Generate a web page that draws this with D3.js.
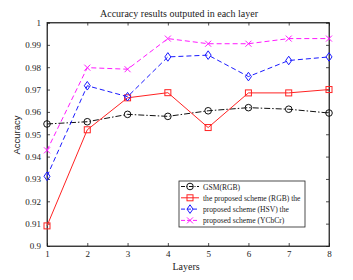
<!DOCTYPE html>
<html>
<head>
<meta charset="utf-8">
<script src="https://cdn.jsdelivr.net/npm/d3@7"></script>
<style>
  body { margin: 0; background: #fff; }
  text { font-family: "Liberation Serif", "Times New Roman", serif; fill: #222; }
</style>
</head>
<body>
<div id="chart"></div>
<script>
const layers = [1, 2, 3, 4, 5, 6, 7, 8];
const gsmRGB = [0.9546, 0.9556, 0.9589, 0.9580, 0.9605, 0.9619, 0.9612, 0.9595];
const propRGB = [0.9090, 0.9520, 0.9663, 0.9686, 0.9530, 0.9685, 0.9685, 0.9700];
const propHSV = [0.9312, 0.9717, 0.9668, 0.9846, 0.9854, 0.9758, 0.9830, 0.9846];
const propYCbCr = [0.9428, 0.9798, 0.9791, 0.9928, 0.9905, 0.9905, 0.9928, 0.9928];
const yTicks = [0.9, 0.91, 0.92, 0.93, 0.94, 0.95, 0.96, 0.97, 0.98, 0.99, 1];
const seriesNames = ["GSM(RGB)", "the proposed scheme (RGB) the", "proposed scheme (HSV) the", "proposed scheme (YCbCr)"];

const W = 353, H = 280;
const mLeft = 47, mRight = 329, mTop = 22.5, mBottom = 246;

const svg = d3.select("#chart").append("svg").attr("width", W).attr("height", H);

const x = d3.scaleLinear().domain([1, 8]).range([mLeft, mRight]);
const y = d3.scaleLinear().domain([0.9, 1]).range([mBottom, mTop]);

// axes with inward ticks, MATLAB-style box
const tl = 3;
svg.append("g").attr("transform", `translate(0,${mBottom})`)
  .call(d3.axisBottom(x).tickValues(layers).tickSize(-tl).tickPadding(5).tickFormat(d3.format("d")));
svg.append("g").attr("transform", `translate(0,${mTop})`)
  .call(d3.axisTop(x).tickValues(layers).tickSize(-tl).tickFormat(""));
svg.append("g").attr("transform", `translate(${mLeft},0)`)
  .call(d3.axisLeft(y).tickValues(yTicks).tickSize(-tl).tickPadding(6).tickFormat(d => d === 1 ? "1" : d3.format(".2f")(d).replace(/0$/, "")));
svg.append("g").attr("transform", `translate(${mRight},0)`)
  .call(d3.axisRight(y).tickValues(yTicks).tickSize(-tl).tickFormat(""));
svg.selectAll(".domain, .tick line").attr("stroke", "#222").attr("stroke-width", 0.8);
svg.selectAll(".tick text").attr("font-size", 9).attr("font-family", "Liberation Serif, serif").attr("fill", "#222");

svg.append("rect").attr("x", mLeft).attr("y", mTop).attr("width", mRight - mLeft).attr("height", mBottom - mTop)
  .attr("fill", "none").attr("stroke", "#222").attr("stroke-width", 0.8);

svg.append("text").attr("x", 179).attr("y", 17).attr("text-anchor", "middle")
  .attr("font-size", 10).text("Accuracy results outputed in each layer");
svg.append("text").attr("x", 186).attr("y", 270).attr("text-anchor", "middle")
  .attr("font-size", 10).text("Layers");
svg.append("text").attr("transform", `translate(20,135) rotate(-90)`)
  .attr("text-anchor", "middle").attr("font-size", 9.5)
  .style("font-family", "'Liberation Sans', Arial, sans-serif").text("Accuracy");

const series = [
  { vals: gsmRGB, color: "#111", dash: "6,2,1.5,2", marker: "circle" },
  { vals: propRGB, color: "#f22", dash: null, marker: "square" },
  { vals: propHSV, color: "#1a1aff", dash: "5,3", marker: "diamond" },
  { vals: propYCbCr, color: "#ff1aff", dash: "5,3", marker: "cross" }
];

function drawMarker(g, type, cx, cy, color) {
  if (type === "circle") {
    g.append("circle").attr("cx", cx).attr("cy", cy).attr("r", 3.3).attr("fill", "none").attr("stroke", color).attr("stroke-width", 1);
  } else if (type === "square") {
    g.append("rect").attr("x", cx - 3).attr("y", cy - 3).attr("width", 6).attr("height", 6).attr("fill", "none").attr("stroke", color).attr("stroke-width", 1);
  } else if (type === "diamond") {
    g.append("path").attr("d", `M${cx},${cy - 4.3}L${cx + 3},${cy}L${cx},${cy + 4.3}L${cx - 3},${cy}Z`).attr("fill", "none").attr("stroke", color).attr("stroke-width", 1);
  } else {
    const s = 3;
    g.append("path").attr("d", `M${cx - s},${cy - s}L${cx + s},${cy + s}M${cx - s},${cy + s}L${cx + s},${cy - s}`).attr("stroke", color).attr("stroke-width", 1);
  }
}

const line = d3.line().x((d, i) => x(layers[i])).y(d => y(d));
series.forEach(s => {
  svg.append("path").datum(s.vals).attr("d", line).attr("fill", "none").attr("stroke", s.color)
    .attr("stroke-width", 1).attr("stroke-dasharray", s.dash);
  const g = svg.append("g");
  s.vals.forEach((v, i) => drawMarker(g, s.marker, x(layers[i]), y(v), s.color));
});

// legend
const lg = svg.append("g");
lg.append("rect").attr("x", 179).attr("y", 181).attr("width", 126).attr("height", 46)
  .attr("fill", "#fff").attr("stroke", "#222").attr("stroke-width", 0.8);
series.forEach((s, i) => {
  const ly = 186.5 + i * 11.3;
  lg.append("line").attr("x1", 181).attr("x2", 199).attr("y1", ly).attr("y2", ly)
    .attr("stroke", s.color).attr("stroke-width", 1).attr("stroke-dasharray", s.dash ? (i === 0 ? "4,1.5,1,1.5" : "4,2") : null);
  drawMarker(lg, s.marker, 190, ly, s.color);
  lg.append("text").attr("x", 203).attr("y", ly + 3).attr("font-size", 7.6).text(seriesNames[i]);
});
</script>
</body>
</html>
